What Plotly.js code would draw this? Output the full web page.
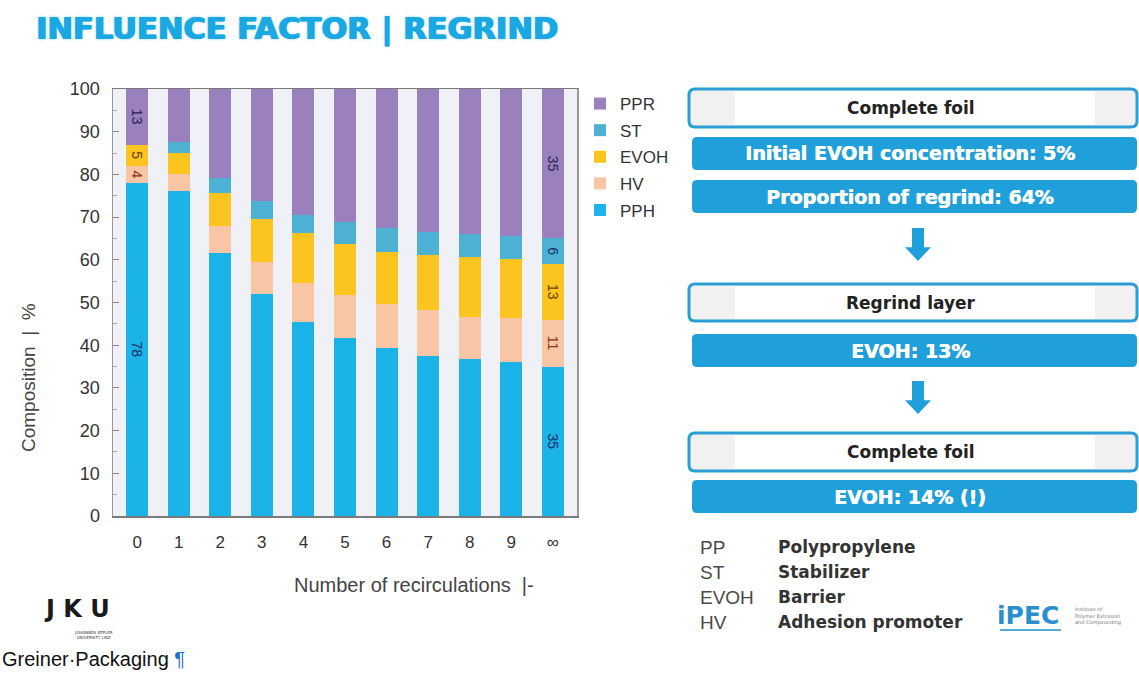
<!DOCTYPE html>
<html>
<head>
<meta charset="utf-8">
<script src="https://cdn.plot.ly/plotly-3.0.1.min.js"></script>
<style>
html,body{margin:0;padding:0;background:#fff;}
#chart{width:1139px;height:681px;}
</style>
</head>
<body>
<div id="chart"></div>
<script>
// ---- data ----
const categories = ['0','1','2','3','4','5','6','7','8','9','∞'];
const PPH  = [78, 76, 61.5, 52, 45.5, 41.8, 39.4, 37.5, 36.8, 36, 35];
const HV   = [4, 4, 6.3, 7.5, 9, 10, 10.2, 10.7, 9.9, 10.4, 11];
const EVOH = [5, 5, 7.8, 10, 11.7, 12, 12.3, 12.9, 14, 13.8, 13];
const ST   = [0, 2.5, 3.6, 4.3, 4.3, 5, 5.5, 5.3, 5.3, 5.4, 6];
const PPR  = [13, 12.5, 20.8, 26.2, 29.5, 31.2, 32.6, 33.6, 34, 34.4, 35];
const seriesNames = ['PPH','HV','EVOH','ST','PPR'];
const labeledBars = [0, 10];

const boxTitles = ['Complete foil','Regrind layer','Complete foil'];
const blueTexts = ['Initial EVOH concentration: 5%','Proportion of regrind: 64%','EVOH: 13%','EVOH: 14% (!)'];
const glossAbbr = ['PP','ST','EVOH','HV'];
const glossDef  = ['Polypropylene','Stabilizer','Barrier','Adhesion promoter'];

// ---- styles ----
const W = 1139, H = 681;
const X = p => p / W;
const Y = p => 1 - p / H;
const colors = {PPH:'#1bb3e8', HV:'#f8c6a4', EVOH:'#fbc41e', ST:'#4cb1d3', PPR:'#9a80bd'};
const txtColors = {PPH:'#1d2d66', HV:'#8a3418', EVOH:'#6a4200', ST:'#1d2d66', PPR:'#2a2356'};
const values = {PPH, HV, EVOH, ST, PPR};

const traces = seriesNames.map((n,i) => ({
  type:'bar', name:n, x:categories, y:values[n], legendgroup:n,
  legendrank: (seriesNames.length - i) * 10,
  marker:{color:colors[n], line:{width:0}},
  text: values[n].map((v,j) => (labeledBars.includes(j) && v>0) ? String(v) : ''),
  textposition:'inside', insidetextanchor:'middle', textangle:90,
  textfont:{family:'Liberation Sans, Arial, sans-serif', size:14, color:txtColors[n]},
  constraintext:'none',
  hoverinfo:'x+y+name'
}));

// ---- shapes for the right panel ----
function rr(x0,y0,x1,y1,r){
  const P=(x,y)=>X(x)+','+Y(y);
  return 'M'+P(x0+r,y0)+' L'+P(x1-r,y0)+' Q'+P(x1,y0)+' '+P(x1,y0+r)+
         ' L'+P(x1,y1-r)+' Q'+P(x1,y1)+' '+P(x1-r,y1)+' L'+P(x0+r,y1)+
         ' Q'+P(x0,y1)+' '+P(x0,y1-r)+' L'+P(x0,y0+r)+' Q'+P(x0,y0)+' '+P(x0+r,y0)+' Z';
}
function arrow(cx,y0,y1){
  const P=(x,y)=>X(x)+','+Y(y);
  const yh = y0 + (y1-y0)*0.58;
  return 'M'+P(cx-6,y0)+' L'+P(cx+6,y0)+' L'+P(cx+6,yh)+' L'+P(cx+13,yh)+' L'+P(cx,y1)+
         ' L'+P(cx-13,yh)+' L'+P(cx-6,yh)+' Z';
}
function ann(x,y,text,font,extra){
  return Object.assign({xref:'paper', yref:'paper', x:X(x), y:Y(y), text:text, showarrow:false,
    xanchor:'center', yanchor:'middle', font:font}, extra||{});
}
const blue = '#1fa0da';
const shapes = [];
const annotations = [];
const whiteBoxes = [[689,89,1137,127],[689,284,1137,321],[689,433,1137,471]];
whiteBoxes.forEach((b,i)=>{
  shapes.push({type:'path', xref:'paper', yref:'paper', path:rr(b[0],b[1],b[2],b[3],6),
    fillcolor:'#f1f1f1', line:{color:'#2a9fd6', width:3}, layer:'above'});
  shapes.push({type:'rect', xref:'paper', yref:'paper', x0:X(735), x1:X(1095), y0:Y(b[1]+2), y1:Y(b[3]-2),
    fillcolor:'#ffffff', line:{width:0}, layer:'above'});
  annotations.push(ann(911,(b[1]+b[3])/2,boxTitles[i],
    {family:'DejaVu Sans, sans-serif', size:17, color:'#222', weight:'bold'}));
});
const blueBars = [[692,137,1137,170],[692,180,1137,213],[692,334,1137,367],[692,480,1137,513]];
blueBars.forEach((b,i)=>{
  shapes.push({type:'path', xref:'paper', yref:'paper', path:rr(b[0],b[1],b[2],b[3],5),
    fillcolor:blue, line:{width:0}, layer:'above'});
  annotations.push(ann(910,(b[1]+b[3])/2,blueTexts[i],
    {family:'DejaVu Sans, sans-serif', size:19, color:'#ffffff', weight:'bold',
     shadow:'0.6px 0 0 #ffffff'}));
});
shapes.push({type:'path', xref:'paper', yref:'paper', path:arrow(918,228,261), fillcolor:blue, line:{width:0}});
shapes.push({type:'path', xref:'paper', yref:'paper', path:arrow(918,381,414), fillcolor:blue, line:{width:0}});

// glossary
glossAbbr.forEach((a,i)=>{
  const yy = 547 + i*25;
  annotations.push(ann(698,yy,a,{family:'Liberation Sans, Arial, sans-serif', size:19, color:'#4a4a4a'},{xanchor:'left'}));
  annotations.push(ann(776,yy,glossDef[i],{family:'DejaVu Sans, sans-serif', size:17, color:'#333', weight:'bold'},{xanchor:'left'}));
});

// title
annotations.push(ann(34,29,'INFLUENCE FACTOR | REGRIND',
  {family:'DejaVu Sans, sans-serif', size:30.5, color:'#1aa8e2', weight:'bold',
   shadow:'1px 0 0 #1aa8e2, -0.5px 0 0 #1aa8e2, 0 0 3px rgba(26,168,226,0.5)'},{xanchor:'left'}));
// axis titles
annotations.push(ann(28,378,'Composition  |  %',{family:'Liberation Sans, Arial, sans-serif', size:19, color:'#444'},{textangle:-90}));
annotations.push(ann(414,585,'Number of recirculations  |-',{family:'Liberation Sans, Arial, sans-serif', size:20, color:'#444'}));
// JKU logo
annotations.push(ann(77,609,'<b>J&nbsp;K&nbsp;U</b>',{family:'DejaVu Sans, sans-serif', size:24, color:'#1a1a1a'}));
annotations.push(ann(93,635,'JOHANNES KEPLER<br>UNIVERSITY LINZ',{family:'DejaVu Sans, sans-serif', size:4, color:'#333'}));
// iPEC logo
annotations.push(ann(1028,615,'<b>iPEC</b>',{family:'DejaVu Sans, sans-serif', size:25, color:'#2b8fcf'}));
shapes.push({type:'rect', xref:'paper', yref:'paper', x0:X(1000), x1:X(1061), y0:Y(629), y1:Y(631),
  fillcolor:'#5aa9db', line:{width:0}});
annotations.push(ann(1073,616,'Institute of<br>Polymer Extrusion<br>and Compounding',
  {family:'DejaVu Sans, sans-serif', size:5, color:'#777'},{xanchor:'left', align:'left'}));
// footer text
annotations.push(ann(0,659,'Greiner·Packaging <span style="color:#1a6fd6">¶</span>',
  {family:'Liberation Sans, Arial, sans-serif', size:20, color:'#111'},{xanchor:'left'}));

const layout = {
  width:W, height:H,
  margin:{l:0, r:0, t:0, b:0},
  paper_bgcolor:'#ffffff', plot_bgcolor:'#f0f1f6',
  barmode:'stack', bargap:0.47,
  showlegend:true,
  legend:{x:X(580), y:Y(86), xanchor:'left', yanchor:'top', bgcolor:'rgba(0,0,0,0)',
    tracegroupgap:1.5, itemwidth:30, traceorder:'grouped',
    font:{family:'Liberation Sans, Arial, sans-serif', size:17, color:'#333'}},
  xaxis:{domain:[X(113), X(577)], type:'category', range:[-0.58, 10.58],
    showline:true, linecolor:'#7a7a7a', linewidth:1.5, mirror:true, ticks:'', showgrid:false,
    tickfont:{family:'Liberation Sans, Arial, sans-serif', size:17, color:'#333'}, ticklabelstandoff:10,
    fixedrange:true},
  yaxis:{domain:[Y(516), Y(89)], range:[0,100], dtick:10, tick0:0,
    showline:true, linecolor:'#999', linewidth:1.5, mirror:true, showgrid:false, zeroline:false,
    ticks:'inside', ticklen:6, tickcolor:'#888',
    minor:{dtick:5, ticks:'inside', ticklen:4, tickcolor:'#aaa'},
    tickfont:{family:'Liberation Sans, Arial, sans-serif', size:18, color:'#333'}, ticklabelstandoff:8,
    fixedrange:true},
  shapes:shapes,
  annotations:annotations
};

Plotly.newPlot('chart', traces, layout, {displayModeBar:false, staticPlot:true});
</script>
</body>
</html>
